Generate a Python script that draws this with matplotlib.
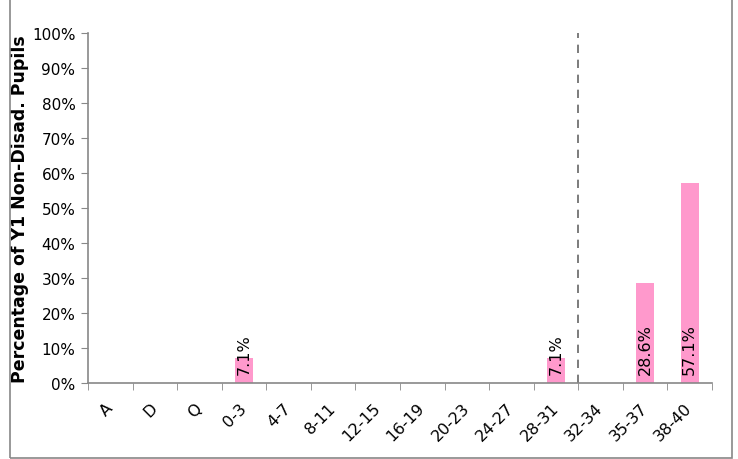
import matplotlib.pyplot as plt
from matplotlib.patches import Rectangle
import numpy as np

categories = ['A', 'D', 'Q', '0-3', '4-7', '8-11', '12-15', '16-19', '20-23',
              '24-27', '28-31', '32-34', '35-37', '38-40']
values = [0, 0, 0, 7.1, 0, 0, 0, 0, 0, 0, 7.1, 0, 28.6, 57.1]
labels = ['', '', '', '7.1%', '', '', '', '', '', '', '7.1%', '', '28.6%', '57.1%']
divider_after = '28-31'

plt.rcParams['font.family'] = ['Verdana', 'DejaVu Sans']

fig = plt.figure(figsize=(7.38, 4.6), dpi=100)
ax = fig.add_axes([88/738, 1 - 384/460, (712 - 88)/738, 350/460])

# outer chart frame
fig.patches.append(Rectangle((10/738, 1/460), (732 - 10)/738, 1.2, transform=fig.transFigure,
                             fill=False, edgecolor='#888888', linewidth=1.2))

x = np.arange(len(categories))
bars = ax.bar(x, values, width=0.4, color='#FF99CC', zorder=2)
for xi, v, lab in zip(x, values, labels):
    if lab:
        ax.text(xi, 2.5, lab, rotation=90, ha='center', va='bottom', fontsize=11.5, color='black', zorder=3)

div = categories.index(divider_after) + 0.5
ax.axvline(div, color='#666666', linestyle=(0, (5, 4)), linewidth=1.2, zorder=1)

ax.set_xlim(-0.5, len(categories) - 0.5)
ax.set_ylim(0, 100)
ax.set_yticks(np.arange(0, 101, 10))
ax.set_yticklabels([f'{t}%' for t in range(0, 101, 10)], fontsize=11)
ax.set_xticks(x)
ax.set_xticklabels(categories, rotation=45, fontsize=11.5)
ax.set_xticks(np.arange(-0.5, len(categories)), minor=True)
ax.tick_params(axis='x', which='major', length=0, pad=16)
ax.tick_params(axis='x', which='minor', length=5, color='#888888', direction='out')
ax.tick_params(axis='y', length=5, color='#888888', direction='out', pad=4)
for lab in ax.get_xticklabels():
    lab.set_rotation_mode('anchor')
    lab.set_ha('right')
    lab.set_va('center')

for s in ['top', 'right']:
    ax.spines[s].set_visible(False)
for s in ['left', 'bottom']:
    ax.spines[s].set_color('#888888')
    ax.spines[s].set_linewidth(1.2)

ax.set_ylabel('Percentage of Y1 Non-Disad. Pupils', fontsize=12.5, fontweight='bold')
ax.yaxis.set_label_coords(-0.094, 0.5)

fig.savefig('out.png', dpi=100)
